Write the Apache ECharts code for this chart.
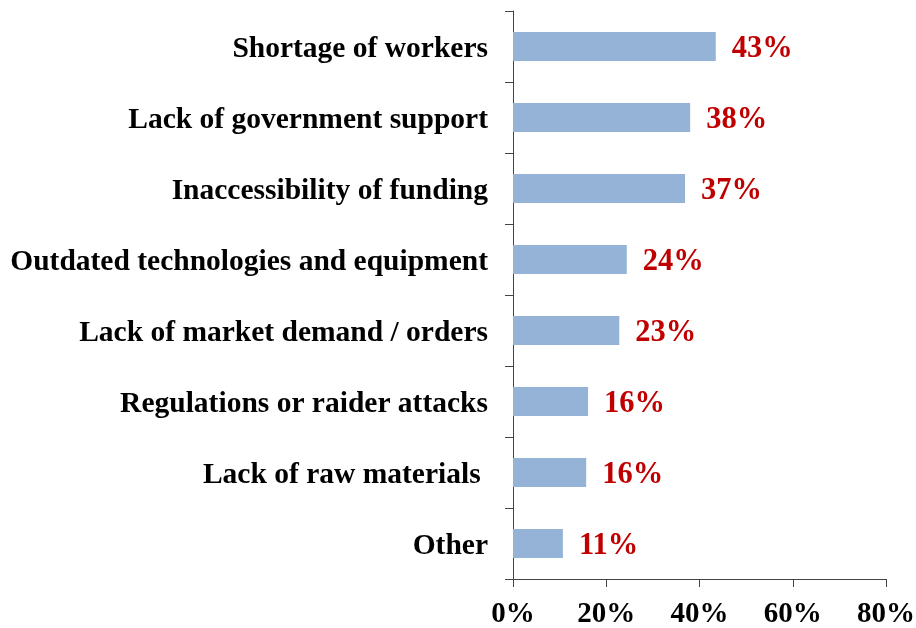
<!DOCTYPE html>
<html>
<head>
<meta charset="utf-8">
<script src="https://cdn.jsdelivr.net/npm/echarts@6/dist/echarts.min.js"></script>
<style>
  html, body { margin: 0; padding: 0; background: #fff; }
  #chart { width: 916px; height: 628px; }
</style>
</head>
<body>
<div id="chart"></div>
<script>
// top to bottom as shown
const categories = [
  'Shortage of workers',
  'Lack of government support',
  'Inaccessibility of funding',
  'Outdated technologies and equipment',
  'Lack of market demand / orders',
  'Regulations or raider attacks',
  'Lack of raw materials ',
  'Other',
];
const shares = [43.49, 38, 36.9, 24.4, 22.8, 16.1, 15.7, 10.7];
const xTicks = [0, 20, 40, 60, 80];

const font = '"Liberation Serif", "Times New Roman", serif';
const chart = echarts.init(document.getElementById('chart'));

chart.setOption({
  animation: false,
  grid: {
    left: 513, right: 30, top: 11, bottom: 49,
    containLabel: false,
    outerBoundsMode: 'none',
  },
  xAxis: {
    type: 'value',
    min: xTicks[0],
    max: xTicks[xTicks.length - 1],
    interval: 20,
    splitLine: { show: false },
    axisLine: { show: true, lineStyle: { color: '#444', width: 1 } },
    axisTick: { show: true, length: 8, lineStyle: { color: '#444' } },
    axisLabel: {
      margin: 21,
      color: '#000',
      fontFamily: font,
      fontWeight: 'bold',
      fontSize: 29,
      formatter: (v) => v + '%',
    },
  },
  yAxis: {
    type: 'category',
    inverse: true,
    data: categories,
    axisLine: { show: true, lineStyle: { color: '#444', width: 1 } },
    axisTick: { show: true, length: 8, lineStyle: { color: '#444' } },
    axisLabel: {
      interval: 0,
      margin: 25,
      color: '#000',
      fontFamily: font,
      fontWeight: 'bold',
      fontSize: 29.5,
      // nudge text ~3px below the band centre, like the original
      verticalAlign: 'top',
      lineHeight: 6,
    },
  },
  series: [
    {
      type: 'bar',
      data: shares,
      barWidth: 29,
      itemStyle: { color: '#95B3D7' },
      label: {
        show: true,
        position: 'right',
        distance: 16,
        offset: [0, 3],
        color: '#C00000',
        fontFamily: font,
        fontWeight: 'bold',
        fontSize: 30.5,
        formatter: (p) => Math.round(p.value) + '%',
      },
    },
  ],
});
</script>
</body>
</html>
